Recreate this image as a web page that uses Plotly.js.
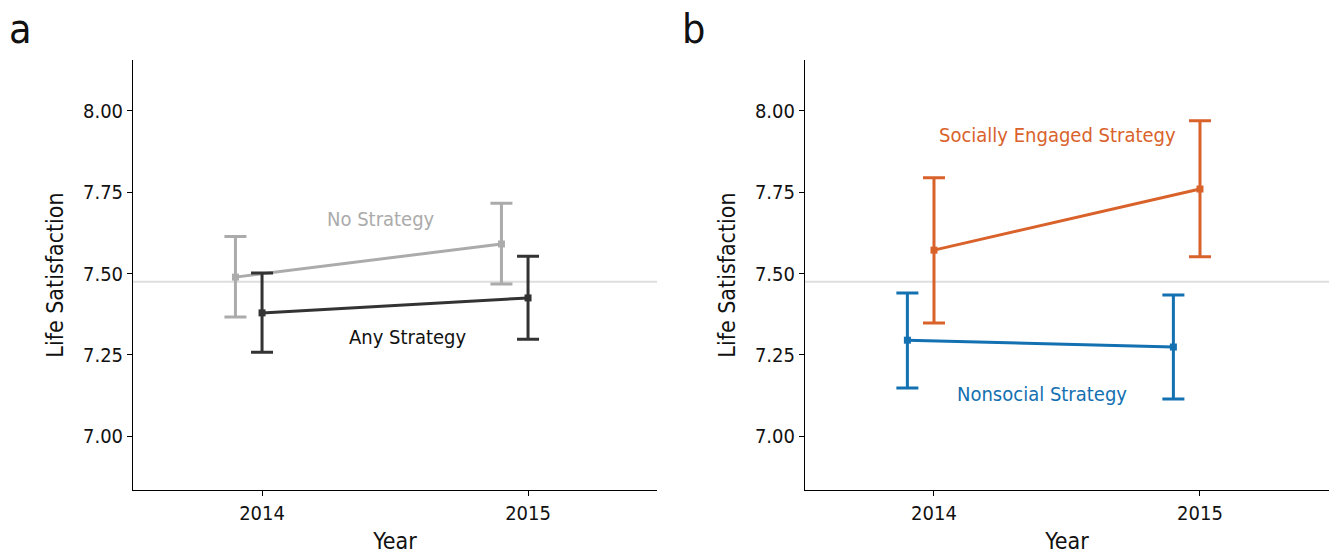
<!DOCTYPE html>
<html><head><meta charset="utf-8">
<script src="https://cdn.plot.ly/plotly-3.0.1.min.js"></script>
<style>html,body{margin:0;padding:0;background:#fff}</style>
</head><body>
<div id="chart" style="width:1329px;height:555px"></div>
<script>
const years = [2014, 2015];
const dodgeYears = [2013.9, 2014.9];
// Panel a
const noStrategyMean = [7.489, 7.591];
const noStrategyUpper = [7.614, 7.716];
const noStrategyLower = [7.366, 7.468];
const anyStrategyMean = [7.379, 7.425];
const anyStrategyUpper = [7.502, 7.553];
const anyStrategyLower = [7.258, 7.298];
// Panel b
const socialMean = [7.572, 7.760];
const socialUpper = [7.795, 7.970];
const socialLower = [7.348, 7.552];
const nonsocialMean = [7.295, 7.274];
const nonsocialUpper = [7.440, 7.434];
const nonsocialLower = [7.148, 7.114];
const referenceLevel = 7.475;
const yTicks = [7.00, 7.25, 7.50, 7.75, 8.00];
const yTickLabels = ['7.00', '7.25', '7.50', '7.75', '8.00'];
const xTickLabels = ['2014', '2015'];

const FONT = '"Liberation Sans Narrow", "DejaVu Sans Condensed", "Roboto", sans-serif';

function series(x, mean, up, lo, color, xa, ya) {
  return {
    x: x, y: mean, xaxis: xa, yaxis: ya, type: 'scatter', mode: 'lines+markers',
    line: {color: color, width: 3},
    marker: {color: color, size: 7, symbol: 'square'},
    error_y: {type: 'data', symmetric: false,
      array: up.map((u, i) => u - mean[i]),
      arrayminus: mean.map((m, i) => m - lo[i]),
      color: color, thickness: 3, width: 11},
    showlegend: false, hoverinfo: 'skip'
  };
}

const data = [
  series(dodgeYears, noStrategyMean, noStrategyUpper, noStrategyLower, '#ababab', 'x', 'y'),
  series(years, anyStrategyMean, anyStrategyUpper, anyStrategyLower, '#333333', 'x', 'y'),
  series(dodgeYears, nonsocialMean, nonsocialUpper, nonsocialLower, '#1370b1', 'x2', 'y2'),
  series(years, socialMean, socialUpper, socialLower, '#d9622b', 'x2', 'y2')
];

const xRange = [2013.515, 2015.485];
const yRange = [6.834, 8.157];
function xAxis(domain, anchor) {
  return {domain: domain, anchor: anchor, range: xRange, tickvals: years, ticktext: xTickLabels,
    showgrid: false, zeroline: false, showline: true, linecolor: '#000', linewidth: 1,
    ticks: 'outside', ticklen: 5, tickcolor: '#000', tickfont: {family: FONT, size: 20, color: '#111'},
    title: {text: 'Year', font: {family: FONT, size: 23, color: '#111'}, standoff: 8}};
}
function yAxis(domain, anchor) {
  return {domain: domain, anchor: anchor, range: yRange, tickvals: yTicks, ticktext: yTickLabels,
    showgrid: false, zeroline: false, showline: true, linecolor: '#000', linewidth: 1,
    ticks: 'outside', ticklen: 5, tickcolor: '#000', tickfont: {family: FONT, size: 20, color: '#111'},
    title: {text: 'Life Satisfaction', font: {family: FONT, size: 23, color: '#111'}, standoff: 12}};
}
const yDom = [0.117, 0.892];
const layout = {
  width: 1329, height: 555, margin: {l: 0, r: 0, t: 0, b: 0},
  paper_bgcolor: '#fff', plot_bgcolor: '#fff',
  xaxis: xAxis([0.1001, 0.4944], 'y'),
  yaxis: yAxis(yDom, 'x'),
  xaxis2: xAxis([0.6057, 1.0], 'y2'),
  yaxis2: yAxis(yDom, 'x2'),
  shapes: [
    {type: 'line', xref: 'x domain', yref: 'y', x0: 0, x1: 1, y0: referenceLevel, y1: referenceLevel,
     line: {color: '#dedede', width: 2}, layer: 'below'},
    {type: 'line', xref: 'x2 domain', yref: 'y2', x0: 0, x1: 1, y0: referenceLevel, y1: referenceLevel,
     line: {color: '#dedede', width: 2}, layer: 'below'}
  ],
  annotations: [
    {text: 'a', xref: 'paper', yref: 'paper', x: 0.005, y: 0.995, xanchor: 'left', yanchor: 'top', showarrow: false,
     font: {family: FONT, size: 41, color: '#111'}},
    {text: 'b', xref: 'paper', yref: 'paper', x: 0.512, y: 0.995, xanchor: 'left', yanchor: 'top', showarrow: false,
     font: {family: FONT, size: 41, color: '#111'}},
    {text: 'No Strategy', xref: 'x', yref: 'y', x: 2014.447, y: 7.668, showarrow: false,
     font: {family: FONT, size: 20, color: '#ababab'}},
    {text: 'Any Strategy', xref: 'x', yref: 'y', x: 2014.549, y: 7.305, showarrow: false,
     font: {family: FONT, size: 20, color: '#111'}},
    {text: 'Socially Engaged Strategy', xref: 'x2', yref: 'y2', x: 2014.466, y: 7.926, showarrow: false,
     font: {family: FONT, size: 20, color: '#d9622b'}},
    {text: 'Nonsocial Strategy', xref: 'x2', yref: 'y2', x: 2014.406, y: 7.129, showarrow: false,
     font: {family: FONT, size: 20, color: '#1370b1'}}
  ]
};
Plotly.newPlot('chart', data, layout, {displayModeBar: false, staticPlot: true});
</script>
</body></html>
